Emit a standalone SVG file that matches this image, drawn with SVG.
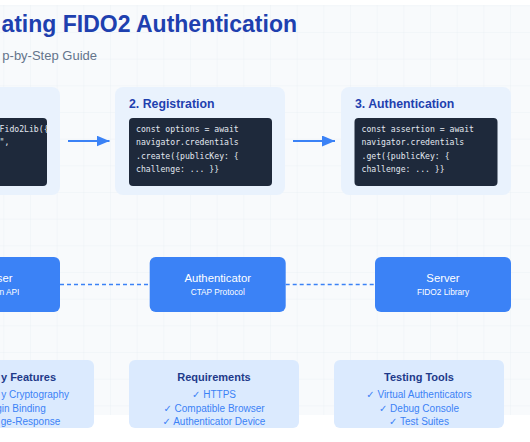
<svg xmlns="http://www.w3.org/2000/svg" width="530" height="442" viewBox="0 0 530 442">
<defs>
<pattern id="grid" width="26.67" height="26.67" patternUnits="userSpaceOnUse" x="3.3" y="5.3">
<path d="M26.67 0 L0 0 0 26.67" fill="none" stroke="#e5eaf1" stroke-width="0.6"/>
</pattern>
<marker id="arr" markerUnits="userSpaceOnUse" markerWidth="13" markerHeight="11" refX="13" refY="5.5" orient="auto">
<path d="M0,0 L13,5.5 L0,11 z" fill="#3b82f6"/>
</marker>
<style>
.title{font-family:"Liberation Sans",Arial,sans-serif;font-weight:bold;font-size:23px;fill:#1e40af}
.sub{font-family:"Liberation Sans",Arial,sans-serif;font-size:13px;fill:#64748b}
.step{fill:#e9f2fd}
.steptitle{font-family:"Liberation Sans",Arial,sans-serif;font-weight:bold;font-size:12.3px;fill:#1e40af}
.code{fill:#1e293b}
.codetxt{font-family:"DejaVu Sans Mono","Liberation Mono",monospace;font-size:8.15px;fill:#e2e8f0}
.comp{fill:#3b82f6}
.ctitle{font-family:"Liberation Sans",Arial,sans-serif;font-size:11.3px;fill:#ffffff;text-anchor:middle}
.csub{font-family:"Liberation Sans",Arial,sans-serif;font-size:8.3px;fill:#ffffff;text-anchor:middle}
.info{fill:#dbeafe}
.ititle{font-family:"Liberation Sans",Arial,sans-serif;font-weight:bold;font-size:11px;fill:#1e3a8a;text-anchor:middle}
.iitem{font-family:"Liberation Sans","DejaVu Sans",Arial,sans-serif;font-size:10px;fill:#3b82f6;text-anchor:middle}
.flow{stroke:#3b82f6;stroke-width:2;fill:none}
.dash{stroke:#3b82f6;stroke-width:1.6;stroke-dasharray:4 3;fill:none}
</style>
</defs>
<rect x="0" y="0" width="530" height="442" fill="#ffffff"/>
<rect x="0" y="5" width="530" height="410" fill="#f8fafc"/>
<rect x="0" y="5" width="530" height="410" fill="url(#grid)"/>

<g id="header">
<text class="title" x="297" y="32" text-anchor="end">ating FIDO2 Authentication</text>
<text class="sub" x="97" y="60" text-anchor="end">p-by-Step Guide</text>
</g>

<g id="step1">
<rect class="step" x="-110" y="87" width="170" height="108" rx="8"/>
<rect class="code" x="-96" y="118" width="143" height="68" rx="4"/>
<text class="codetxt" x="-0.4" y="132">Fido2Lib({</text>
<text class="codetxt" x="-0.4" y="145.3">",</text>
</g>

<g id="step2">
<rect class="step" x="115" y="87" width="170" height="108" rx="8"/>
<text class="steptitle" x="129" y="107.5">2. Registration</text>
<rect class="code" x="129" y="118" width="143" height="68" rx="4"/>
<text class="codetxt" x="136" y="132">const options = await</text>
<text class="codetxt" x="136" y="145.3">navigator.credentials</text>
<text class="codetxt" x="136" y="158.6">.create({publicKey: {</text>
<text class="codetxt" x="136" y="171.9">challenge: ... }}</text>
</g>

<g id="step3">
<rect class="step" x="341" y="87" width="170" height="108" rx="8"/>
<text class="steptitle" x="355" y="107.5">3. Authentication</text>
<rect class="code" x="354.5" y="118" width="143" height="68" rx="4"/>
<text class="codetxt" x="361.5" y="132">const assertion = await</text>
<text class="codetxt" x="361.5" y="145.3">navigator.credentials</text>
<text class="codetxt" x="361.5" y="158.6">.get({publicKey: {</text>
<text class="codetxt" x="361.5" y="171.9">challenge: ... }}</text>
</g>

<g id="browser">
<rect class="comp" x="-76" y="257" width="136" height="55" rx="6"/>
<text class="ctitle" x="12.5" y="281.5" style="text-anchor:end">ser</text>
<text class="csub" x="19.3" y="295" style="text-anchor:end">n API</text>
</g>

<g id="authenticator">
<rect class="comp" x="149.7" y="257" width="136" height="55" rx="6"/>
<text class="ctitle" x="217.7" y="281.5">Authenticator</text>
<text class="csub" x="217.7" y="295">CTAP Protocol</text>
</g>

<g id="server">
<rect class="comp" x="375" y="257" width="136" height="55" rx="6"/>
<text class="ctitle" x="443" y="281.5">Server</text>
<text class="csub" x="443" y="295">FIDO2 Library</text>
</g>

<g id="security-features">
<rect class="info" x="-76" y="360" width="170" height="68" rx="6"/>
<text class="ititle" x="56" y="380.5" style="text-anchor:end">y Features</text>
<text class="iitem" x="69" y="397.5" style="text-anchor:end">y Cryptography</text>
<text class="iitem" x="45.7" y="411.5" style="text-anchor:end">gin Binding</text>
<text class="iitem" x="60.3" y="425" style="text-anchor:end">ge-Response</text>
</g>

<g id="requirements">
<rect class="info" x="129" y="360" width="170" height="68" rx="6"/>
<text class="ititle" x="214" y="380.5">Requirements</text>
<text class="iitem" x="214" y="397.5">✓ HTTPS</text>
<text class="iitem" x="214" y="411.5">✓ Compatible Browser</text>
<text class="iitem" x="214" y="425">✓ Authenticator Device</text>
</g>

<g id="testing-tools">
<rect class="info" x="334" y="360" width="170" height="68" rx="6"/>
<text class="ititle" x="419" y="380.5">Testing Tools</text>
<text class="iitem" x="419" y="397.5">✓ Virtual Authenticators</text>
<text class="iitem" x="419" y="411.5">✓ Debug Console</text>
<text class="iitem" x="419" y="425">✓ Test Suites</text>
</g>

<g id="connectors">
<line class="flow" x1="68" y1="141" x2="109.5" y2="141" marker-end="url(#arr)"/>
<line class="flow" x1="293" y1="141" x2="335" y2="141" marker-end="url(#arr)"/>
<line class="dash" x1="60" y1="284.5" x2="149.7" y2="284.5"/>
<line class="dash" x1="285.7" y1="284.5" x2="375" y2="284.5"/>
</g>
</svg>
